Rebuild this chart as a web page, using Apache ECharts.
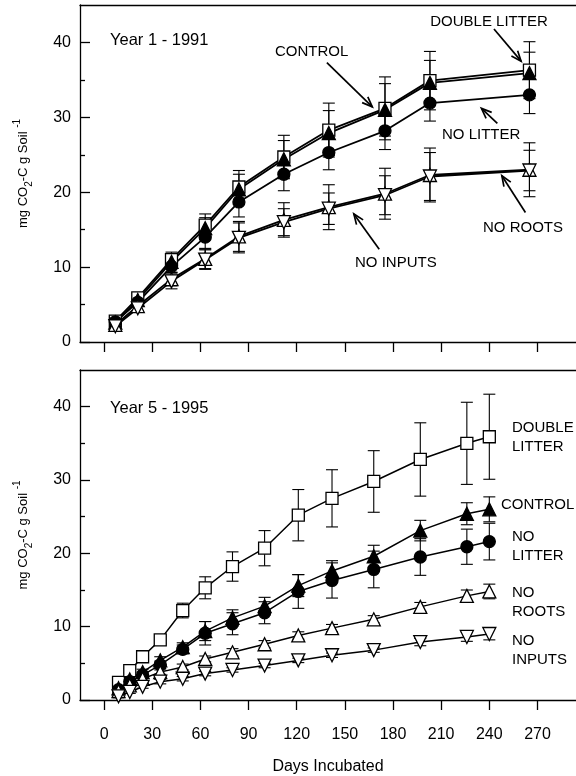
<!DOCTYPE html>
<html><head><meta charset="utf-8">
<script src="https://cdn.jsdelivr.net/npm/echarts@6/dist/echarts.min.js"></script>
<style>html,body{margin:0;padding:0;background:#fff}#c{width:576px;height:776px}</style>
</head><body><div id="c"></div>
<script>
const FONT = '"Liberation Sans", Arial, Helvetica, sans-serif';

// ---- axis ticks ----
const xTickValues = [0, 30, 60, 90, 120, 150, 180, 210, 240, 270];
const yTickValues = [0, 10, 20, 30, 40];
const yMinorTickValues = [5, 15, 25, 35];

// ---- Year 1 - 1991 ----
const days1 = [7, 21, 42, 63, 84, 112, 140, 175, 203, 265];
const doubleLitter1 = [2.8, 5.9, 11.0, 15.6, 20.7, 24.7, 28.3, 31.2, 34.9, 36.3];
const doubleLitter1Err = [0.4, 0.6, 1.0, 1.5, 2.2, 2.9, 3.6, 4.2, 3.9, 3.8];
const control1 = [2.6, 5.6, 10.7, 15.2, 20.4, 24.4, 27.9, 31.0, 34.6, 35.9];
const control1Err = [0.4, 0.6, 0.9, 1.4, 2.0, 2.5, 3.0, 3.5, 3.0, 2.8];
const noLitter1 = [2.7, 5.3, 10.1, 14.0, 18.7, 22.4, 25.3, 28.2, 31.9, 33.0];
const noLitter1Err = [0.4, 0.5, 0.8, 1.5, 2.0, 2.2, 2.3, 2.5, 2.4, 2.5];
const noRoots1 = [2.3, 4.8, 8.4, 11.1, 14.1, 16.3, 18.0, 19.8, 22.3, 23.0];
const noRoots1Err = [0.4, 0.6, 0.9, 1.3, 2.0, 2.3, 3.0, 3.4, 3.6, 3.6];
const noInputs1 = [2.1, 4.5, 8.1, 11.0, 13.9, 16.0, 17.8, 19.6, 22.1, 22.9];
const noInputs1Err = [0.3, 0.5, 1.0, 1.3, 2.0, 1.8, 2.1, 2.6, 3.2, 2.7];

// ---- Year 5 - 1995 ----
const days5 = [9, 16, 24, 35, 49, 63, 80, 100, 121, 142, 168, 197, 226, 240];
const doubleLitter5 = [2.4, 4.0, 5.9, 8.2, 12.2, 15.3, 18.2, 20.7, 25.2, 27.5, 29.8, 32.8, 35.0, 35.9];
const doubleLitter5Err = [0.3, 0.3, 0.4, 0.5, 1.0, 1.5, 2.0, 2.4, 3.5, 3.9, 4.2, 5.0, 5.6, 5.8];
const control5 = [1.6, 2.8, 3.8, 5.4, 7.2, 9.4, 11.2, 12.8, 15.6, 17.6, 19.6, 23.1, 25.4, 26.0];
const control5Err = [0.3, 0.3, 0.4, 0.5, 0.6, 1.3, 1.1, 1.2, 1.5, 1.4, 1.5, 1.4, 1.5, 1.7];
const noLitter5 = [1.4, 2.5, 3.4, 4.8, 6.9, 9.1, 10.4, 11.9, 14.8, 16.3, 17.8, 19.5, 20.9, 21.6];
const noLitter5Err = [0.3, 0.3, 0.4, 0.5, 0.6, 1.6, 1.5, 1.5, 2.3, 2.4, 2.5, 2.5, 2.4, 2.5];
const noRoots5 = [1.2, 2.0, 2.9, 3.8, 4.5, 5.6, 6.5, 7.6, 8.8, 9.8, 11.0, 12.7, 14.2, 14.8];
const noRoots5Err = [0.2, 0.2, 0.3, 0.3, 0.4, 0.4, 0.5, 0.5, 0.5, 0.5, 0.5, 0.6, 0.8, 1.0];
const noInputs5 = [0.5, 1.1, 1.8, 2.5, 2.9, 3.6, 4.1, 4.7, 5.4, 6.1, 6.8, 7.9, 8.6, 9.0];
const noInputs5Err = [0.2, 0.2, 0.2, 0.3, 0.3, 0.3, 0.3, 0.3, 0.3, 0.3, 0.3, 0.5, 0.6, 0.8];

// ---- annotation arrows (data coordinates: fromDay, fromValue, toDay, toValue) ----
const arrows1 = [
  [242.9, 41.8, 259.8, 37.5],   // DOUBLE LITTER
  [138.8, 37.3, 167.1, 31.4],   // CONTROL
  [245.0, 29.2, 235.1, 31.2],   // NO LITTER
  [262.5, 17.3, 247.8, 22.2],   // NO ROOTS
  [171.4, 12.4, 155.6, 17.1]    // NO INPUTS
];

// ---- styles ----
const markerStyles = {
  'DOUBLE LITTER': {symbol: 'rect', size: 12, fill: '#fff', rotate: 0},
  'CONTROL': {symbol: 'triangle', size: 13, fill: '#000', rotate: 0},
  'NO LITTER': {symbol: 'circle', size: 12, fill: '#000', rotate: 0},
  'NO ROOTS': {symbol: 'triangle', size: 13, fill: '#fff', rotate: 0},
  'NO INPUTS': {symbol: 'triangle', size: 13, fill: '#fff', rotate: 180}
};

const chart = echarts.init(document.getElementById('c'), null, {renderer: 'canvas'});

const X_MIN = -15, X_MAX = 294;

function mainX(gridIndex, showLabels) {
  const ax = {
    type: 'value', gridIndex, min: X_MIN, max: X_MAX, position: 'bottom',
    axisLine: {show: true, onZero: false, lineStyle: {color: '#000', width: 1.3}},
    axisTick: {show: true, inside: false, length: 10, customValues: xTickValues, lineStyle: {color: '#000', width: 1.3}},
    axisLabel: {show: showLabels, customValues: xTickValues, color: '#000', fontSize: 16, fontFamily: FONT, margin: 27},
    splitLine: {show: false}
  };
  if (showLabels) {
    ax.name = 'Days Incubated';
    ax.nameLocation = 'middle';
    ax.nameGap = 59;
    ax.nameTextStyle = {color: '#000', fontSize: 16, fontFamily: FONT};
  }
  return ax;
}
function borderX(gridIndex) {
  return {
    type: 'value', gridIndex, min: X_MIN, max: X_MAX, position: 'top',
    axisLine: {show: true, onZero: false, lineStyle: {color: '#000', width: 1.3}},
    axisTick: {show: false}, axisLabel: {show: false}, splitLine: {show: false}
  };
}
function mainY(gridIndex) {
  return {
    type: 'value', gridIndex, min: 0, max: 45, position: 'left',
    name: '{a|mg CO}{b|2}{a|-C g Soil }{c|-1}',
    nameLocation: 'middle', nameRotate: 90, nameGap: 46,
    nameTextStyle: {
      color: '#000', fontFamily: FONT, fontSize: 13,
      rich: {
        a: {fontSize: 13, lineHeight: 22, fontFamily: FONT, color: '#000'},
        b: {fontSize: 10, lineHeight: 10, verticalAlign: 'bottom', fontFamily: FONT, color: '#000'},
        c: {fontSize: 10, lineHeight: 10, verticalAlign: 'top', fontFamily: FONT, color: '#000'}
      }
    },
    axisLine: {show: true, onZero: false, lineStyle: {color: '#000', width: 1.3}},
    axisTick: {show: true, inside: true, length: 10, customValues: yTickValues, lineStyle: {color: '#000', width: 1.3}},
    axisLabel: {show: true, customValues: yTickValues, color: '#000', fontSize: 16, fontFamily: FONT, margin: 9},
    splitLine: {show: false}
  };
}
function minorY(gridIndex) {
  return {
    type: 'value', gridIndex, min: 0, max: 45, position: 'left', offset: 0,
    axisLine: {show: false, onZero: false},
    axisTick: {show: true, inside: true, length: 5, customValues: yMinorTickValues, lineStyle: {color: '#000', width: 1.3}},
    axisLabel: {show: false}, splitLine: {show: false}
  };
}

function lineSeries(name, axisIdx, days, vals, lineWidth) {
  const m = markerStyles[name];
  return {
    type: 'line', name, xAxisIndex: axisIdx, yAxisIndex: axisIdx, z: 3,
    data: days.map((d, i) => [d, vals[i]]),
    symbol: m.symbol, symbolSize: m.size, symbolRotate: m.rotate, showAllSymbol: true,
    lineStyle: {color: '#000', width: lineWidth},
    itemStyle: {color: m.fill, borderColor: '#000', borderWidth: 1.3},
    emphasis: {disabled: true}, animation: false
  };
}
function errorSeries(axisIdx, days, vals, errs) {
  return {
    type: 'custom', xAxisIndex: axisIdx, yAxisIndex: axisIdx, z: 2, silent: true, animation: false,
    data: days.map((d, i) => [d, vals[i], errs[i]]),
    encode: {x: 0, y: 1},
    renderItem(params, api) {
      const x = api.value(0), v = api.value(1), e = api.value(2);
      const hi = api.coord([x, v + e]), lo = api.coord([x, v - e]);
      const w = 6, st = {stroke: '#000', lineWidth: 1.1};
      return {type: 'group', children: [
        {type: 'line', shape: {x1: hi[0], y1: hi[1], x2: lo[0], y2: lo[1]}, style: st},
        {type: 'line', shape: {x1: hi[0] - w, y1: hi[1], x2: hi[0] + w, y2: hi[1]}, style: st},
        {type: 'line', shape: {x1: lo[0] - w, y1: lo[1], x2: lo[0] + w, y2: lo[1]}, style: st}
      ]};
    }
  };
}
function arrowSeries(axisIdx, arr) {
  return {
    type: 'custom', xAxisIndex: axisIdx, yAxisIndex: axisIdx, z: 6, silent: true, clip: false, animation: false,
    data: arr, encode: {x: 0, y: 1},
    renderItem(params, api) {
      const p1 = api.coord([api.value(0), api.value(1)]);
      const p2 = api.coord([api.value(2), api.value(3)]);
      const ang = Math.atan2(p2[1] - p1[1], p2[0] - p1[0]);
      const L = 11, a = 0.38;
      const b1 = [p2[0] - L * Math.cos(ang - a), p2[1] - L * Math.sin(ang - a)];
      const b2 = [p2[0] - L * Math.cos(ang + a), p2[1] - L * Math.sin(ang + a)];
      const st = {stroke: '#000', lineWidth: 1.7, fill: null};
      return {type: 'group', children: [
        {type: 'line', shape: {x1: p1[0], y1: p1[1], x2: p2[0], y2: p2[1]}, style: st},
        {type: 'polyline', shape: {points: [b1, p2, b2]}, style: st}
      ]};
    }
  };
}

const panels = [
  {axis: 0, days: days1, lw: 1.8, sets: [
    ['DOUBLE LITTER', doubleLitter1, doubleLitter1Err],
    ['CONTROL', control1, control1Err],
    ['NO LITTER', noLitter1, noLitter1Err],
    ['NO ROOTS', noRoots1, noRoots1Err],
    ['NO INPUTS', noInputs1, noInputs1Err]]},
  {axis: 2, days: days5, lw: 1.5, sets: [
    ['DOUBLE LITTER', doubleLitter5, doubleLitter5Err],
    ['CONTROL', control5, control5Err],
    ['NO LITTER', noLitter5, noLitter5Err],
    ['NO ROOTS', noRoots5, noRoots5Err],
    ['NO INPUTS', noInputs5, noInputs5Err]]}
];

const series = [];
panels.forEach(p => {
  p.sets.forEach(s => series.push(errorSeries(p.axis, p.days, s[1], s[2])));
  p.sets.forEach(s => series.push(lineSeries(s[0], p.axis, p.days, s[1], p.lw)));
});
series.push(arrowSeries(0, arrows1));

function txt(text, x, y, size, align) {
  return {type: 'text', silent: true, z: 100,
    style: {text, x, y, fill: '#000', font: size + 'px ' + FONT,
      textAlign: align || 'left', textVerticalAlign: 'middle'}};
}

const option = {
  backgroundColor: '#fff',
  animation: false,
  grid: [
    {left: 80, top: 5, right: 0, height: 337, containLabel: false},
    {left: 80, top: 370, right: 0, height: 333, containLabel: false}
  ],
  xAxis: [mainX(0, false), borderX(0), mainX(1, true), borderX(1)],
  yAxis: [mainY(0), minorY(0), mainY(1), minorY(1)],
  series,
  graphic: [
    txt('Year 1 - 1991', 110, 40, 16.5),
    txt('DOUBLE LITTER', 489, 22, 15, 'center'),
    txt('CONTROL', 275, 52, 15),
    txt('NO LITTER', 442, 135, 15),
    txt('NO ROOTS', 483, 228, 15),
    txt('NO INPUTS', 355, 263, 15),
    txt('Year 5 - 1995', 110, 408, 16.5),
    txt('DOUBLE', 512, 428, 15),
    txt('LITTER', 512, 447, 15),
    txt('CONTROL', 501, 505, 15),
    txt('NO', 512, 537, 15),
    txt('LITTER', 512, 556, 15),
    txt('NO', 512, 593, 15),
    txt('ROOTS', 512, 612, 15),
    txt('NO', 512, 641, 15),
    txt('INPUTS', 512, 660, 15)
  ]
};
chart.setOption(option);
</script></body></html>
